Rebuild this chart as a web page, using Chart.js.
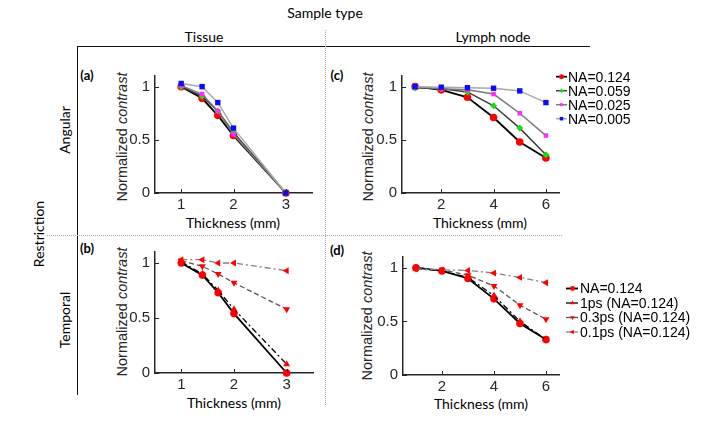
<!DOCTYPE html>
<html>
<head>
<meta charset="utf-8">
<script src="https://cdn.jsdelivr.net/npm/chart.js@4.4.0/dist/chart.umd.min.js"></script>
<style>
body { margin: 0; background: #fff; width: 714px; height: 434px; position: relative; overflow: hidden; font-family: Lato, sans-serif; color: #000; }
.t { position: absolute; white-space: nowrap; font-size: 14px; transform: translate(-50%, -50%); line-height: 1; }
.r { transform: translate(-50%, -50%) rotate(-90deg); }
.yl { font-family: "Liberation Sans", Arial, sans-serif; font-size: 14.5px; color: #262626; }
.pl { font-weight: bold; font-size: 13px; }
canvas { position: absolute; }
.ln { position: absolute; }
</style>
</head>
<body>

<!-- frame -->
<div class="ln" style="left:78px;top:46px;width:512px;height:0;border-top:1.5px solid #111;"></div>
<div class="ln" style="left:77px;top:46px;width:0;height:349px;border-left:1.5px solid #111;"></div>
<div class="ln" style="left:325px;top:30px;width:0;height:375px;border-left:1px dotted #aaa;"></div>
<div class="ln" style="left:47px;top:235px;width:515px;height:0;border-top:1px dotted #aaa;"></div>

<div class="t" style="left:325px;top:13px;">Sample type</div>
<div class="t" style="left:204px;top:37px;">Tissue</div>
<div class="t" style="left:493px;top:37px;">Lymph node</div>
<div class="t r" style="left:39px;top:234px;">Restriction</div>
<div class="t r" style="left:65px;top:130px;">Angular</div>
<div class="t r" style="left:65px;top:320px;">Temporal</div>

<div class="t pl" style="left:87px;top:75px;">(a)</div>
<div class="t pl" style="left:337px;top:75px;">(c)</div>
<div class="t pl" style="left:87px;top:248px;">(b)</div>
<div class="t pl" style="left:337px;top:250px;">(d)</div>

<div class="t r yl" style="left:122px;top:137px;">Normalized <i>contrast</i></div>
<div class="t r yl" style="left:368px;top:137px;">Normalized <i>contrast</i></div>
<div class="t r yl" style="left:122px;top:312px;">Normalized <i>contrast</i></div>
<div class="t r yl" style="left:367px;top:316px;">Normalized <i>contrast</i></div>

<div class="t" style="left:233px;top:223px;">Thickness (mm)</div>
<div class="t" style="left:480px;top:223px;">Thickness (mm)</div>
<div class="t" style="left:234px;top:403px;">Thickness (mm)</div>
<div class="t" style="left:481px;top:404px;">Thickness (mm)</div>

<canvas id="pa"></canvas>
<canvas id="pb"></canvas>
<canvas id="pc"></canvas>
<canvas id="pd"></canvas>

<script>
// thickness values (mm)
const tissueX = [1, 1.4, 1.7, 2, 3];
const lymphX = [1, 2, 3, 4, 5, 6];
const tissueTicks = [1, 2, 3];
const lymphTicks = [2, 4, 6];
const yTicks = [0, 0.5, 1];

// angular restriction
const angularLabels = ['NA=0.124', 'NA=0.059', 'NA=0.025', 'NA=0.005'];
const tissueNA124 = [1.00, 0.89, 0.73, 0.54, 0.00];
const tissueNA059 = [1.00, 0.91, 0.77, 0.57, 0.00];
const tissueNA025 = [1.01, 0.93, 0.77, 0.55, 0.00];
const tissueNA005 = [1.03, 1.00, 0.85, 0.61, 0.00];
const lymphNA124 = [1.00, 0.97, 0.90, 0.71, 0.48, 0.33];
const lymphNA059 = [0.99, 0.98, 0.95, 0.82, 0.61, 0.36];
const lymphNA025 = [1.00, 0.98, 0.97, 0.93, 0.75, 0.54];
const lymphNA005 = [1.00, 0.995, 0.99, 0.985, 0.96, 0.85];

// temporal restriction
const temporalLabels = ['NA=0.124', '1ps (NA=0.124)', '0.3ps (NA=0.124)', '0.1ps (NA=0.124)'];
const tissueT124 = [1.00, 0.89, 0.73, 0.54, 0.00];
const tissueT1ps = [1.01, 0.90, 0.75, 0.58, 0.08];
const tissueT03ps = [1.02, 0.97, 0.90, 0.82, 0.58];
const tissueT01ps = [1.03, 1.03, 1.00, 1.00, 0.93];
const lymphT124 = [1.00, 0.97, 0.90, 0.71, 0.48, 0.33];
const lymphT1ps = [0.99, 0.97, 0.91, 0.74, 0.50, 0.33];
const lymphT03ps = [0.99, 0.98, 0.93, 0.83, 0.65, 0.52];
const lymphT01ps = [0.99, 0.98, 0.975, 0.95, 0.91, 0.86];

const angularStyles = [
    { borderColor: '#000000', borderWidth: 1.8, pointStyle: 'circle', pointRadius: 3.8, pointBackgroundColor: '#ff0000' },
    { borderColor: '#3c3c3c', borderWidth: 1.5, pointStyle: 'rectRot', pointRadius: 3.5, pointBackgroundColor: '#14e014' },
    { borderColor: '#7a7a7a', borderWidth: 1.5, pointStyle: 'rect', pointRadius: 3.2, pointBackgroundColor: '#ff2cff' },
    { borderColor: '#a8a8a8', borderWidth: 1.5, pointStyle: 'rect', pointRadius: 3.8, pointBackgroundColor: '#0a0aff' }
];
const temporalStyles = [
    { borderColor: '#000000', borderWidth: 1.8, pointStyle: 'circle', pointRadius: 3.8, pointBackgroundColor: '#ff0000' },
    { borderColor: '#000000', borderWidth: 1.3, borderDash: [6, 3, 2, 3], pointStyle: 'triangle', pointRotation: 0, pointRadius: 4, pointBackgroundColor: '#ff0000' },
    { borderColor: '#555555', borderWidth: 1.3, borderDash: [5, 3], pointStyle: 'triangle', pointRotation: 180, pointRadius: 4, pointBackgroundColor: '#ff0000' },
    { borderColor: '#808080', borderWidth: 1.3, borderDash: [6, 3, 2, 3], pointStyle: 'triangle', pointRotation: -90, pointRadius: 4, pointBackgroundColor: '#ff0000' }
];

function makeSets(xs, series, labels, styles) {
    return series.map((ys, i) => Object.assign({
        label: labels[i],
        data: xs.map((x, k) => ({ x: x, y: ys[k] })),
        fill: false,
        tension: 0,
        clip: false,
        pointBorderWidth: 0,
        pointHoverRadius: 4,
        order: series.length - 1 - i
    }, styles[i]));
}

// MATLAB style inward ticks
const innerTicks = {
    id: 'innerTicks',
    afterDraw(chart) {
        const ctx = chart.ctx, a = chart.chartArea, x = chart.scales.x, y = chart.scales.y;
        ctx.save();
        ctx.strokeStyle = '#262626';
        ctx.lineWidth = 1;
        ctx.beginPath();
        x.ticks.forEach(t => {
            const px = Math.round(x.getPixelForValue(t.value)) + 0.5;
            ctx.moveTo(px, a.bottom); ctx.lineTo(px, a.bottom - 4);
        });
        y.ticks.forEach(t => {
            const py = Math.round(y.getPixelForValue(t.value)) + 0.5;
            ctx.moveTo(a.left, py); ctx.lineTo(a.left + 4, py);
        });
        ctx.stroke();
        ctx.restore();
    }
};

// legend drawn beside the plot, line sample + marker + text
const sideLegend = {
    id: 'sideLegend',
    afterDraw(chart, args, opts) {
        if (!opts.show) return;
        const ctx = chart.ctx, a = chart.chartArea;
        chart.data.datasets.forEach((ds, i) => {
            const yy = a.top + opts.top + i * opts.dy;
            ctx.save();
            ctx.strokeStyle = ds.borderColor;
            ctx.lineWidth = ds.borderWidth;
            ctx.beginPath();
            ctx.moveTo(a.right + opts.x0, yy);
            ctx.lineTo(a.right + opts.x1, yy);
            ctx.stroke();
            ctx.fillStyle = ds.pointBackgroundColor;
            Chart.helpers.drawPoint(ctx, {
                pointStyle: ds.pointStyle,
                rotation: ds.pointRotation || 0,
                radius: ds.pointRadius * 0.65,
                borderWidth: 0
            }, a.right + opts.xm, yy);
            ctx.fillStyle = '#000';
            ctx.font = '14px "Liberation Sans", Arial, sans-serif';
            ctx.textBaseline = 'middle';
            ctx.fillText(ds.label, a.right + opts.xt, yy + 1);
            ctx.restore();
        });
    }
};

function makePanel(id, area, xRange, xTicks, datasets, legend) {
    const yW = 50, xH = 28, padTop = 10;
    const extra = legend ? 150 : 10;
    const cv = document.getElementById(id);
    cv.width = (area.r - area.l) + yW + extra;
    cv.height = (area.b - area.t) + padTop + xH;
    cv.style.left = (area.l - yW) + 'px';
    cv.style.top = (area.t - padTop) + 'px';

    const tickFont = { family: '"Liberation Sans", Arial, sans-serif', size: 15 };

    new Chart(cv, {
        type: 'line',
        data: { datasets: datasets },
        options: {
            responsive: false,
            animation: false,
            devicePixelRatio: 1,
            layout: { padding: { top: padTop, left: 0, right: extra, bottom: 0 } },
            plugins: {
                legend: { display: false },
                tooltip: { enabled: false },
                sideLegend: legend || { show: false }
            },
            scales: {
                x: {
                    type: 'linear',
                    min: xRange[0],
                    max: xRange[1],
                    afterBuildTicks: s => { s.ticks = xTicks.map(v => ({ value: v })); },
                    afterFit: s => { s.height = xH; },
                    grid: { drawOnChartArea: false, drawTicks: false },
                    border: { display: true, color: '#262626', width: 1.5 },
                    ticks: { font: tickFont, color: '#262626', padding: 3, callback: v => String(v) }
                },
                y: {
                    min: 0,
                    max: 1.1,
                    afterBuildTicks: s => { s.ticks = yTicks.map(v => ({ value: v })); },
                    afterFit: s => { s.width = yW; },
                    grid: { drawOnChartArea: false, drawTicks: false },
                    border: { display: true, color: '#262626', width: 1.5 },
                    ticks: { font: tickFont, color: '#262626', padding: 5, callback: v => String(v) }
                }
            }
        },
        plugins: [innerTicks, sideLegend]
    });
}

makePanel('pa', { l: 155, r: 312, t: 72, b: 193 }, [0.5, 3.5], tissueTicks,
    makeSets(tissueX, [tissueNA124, tissueNA059, tissueNA025, tissueNA005], angularLabels, angularStyles), null);

makePanel('pc', { l: 402, r: 559, t: 72, b: 193 }, [0.5, 6.5], lymphTicks,
    makeSets(lymphX, [lymphNA124, lymphNA059, lymphNA025, lymphNA005], angularLabels, angularStyles),
    { show: true, top: 0.7, dy: 14, x0: -3, x1: 8, xm: 2.5, xt: 9 });

makePanel('pb', { l: 155, r: 313, t: 248, b: 373 }, [0.5, 3.5], tissueTicks,
    makeSets(tissueX, [tissueT124, tissueT1ps, tissueT03ps, tissueT01ps], temporalLabels, temporalStyles), null);

makePanel('pd', { l: 403, r: 559, t: 253, b: 375 }, [0.5, 6.5], lymphTicks,
    makeSets(lymphX, [lymphT124, lymphT1ps, lymphT03ps, lymphT01ps], temporalLabels, temporalStyles),
    { show: true, top: 31.5, dy: 14.5, x0: 7, x1: 19, xm: 13.5, xt: 21 });
</script>
</body>
</html>
